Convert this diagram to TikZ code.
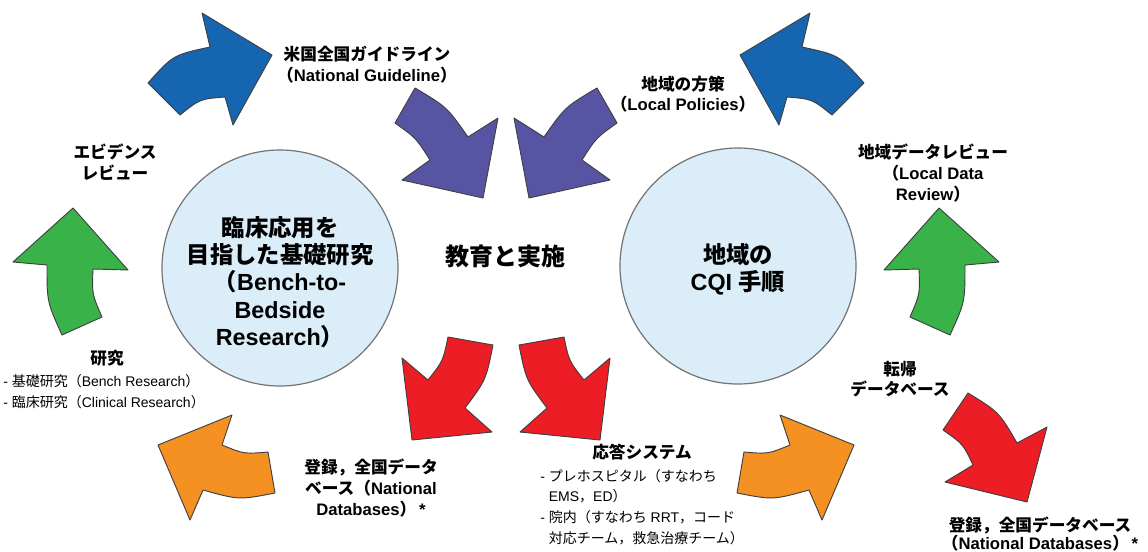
\documentclass[tikz,border=0pt]{standalone}
\usepackage{fontspec}
\setmainfont{Liberation Sans}
\newfontfamily\jp{Noto Sans CJK JP}
\definecolor{cqiblue}{RGB}{22,101,176}
\definecolor{cqipurple}{RGB}{88,84,164}
\definecolor{cqigreen}{RGB}{58,178,74}
\definecolor{cqiorange}{RGB}{245,144,34}
\definecolor{cqired}{RGB}{236,29,36}
\definecolor{cqicircle}{RGB}{218,237,249}

\begin{document}
\begin{tikzpicture}[x=0.75pt, y=-0.75pt, line join=round,
	blk/.style={draw=black!75, line width=0.7pt},
	lbl/.style={font=\bfseries\fontsize{12.5}{15.5}\selectfont, align=center, inner sep=0pt},
	big/.style={font=\bfseries\fontsize{17.5}{20.5}\selectfont, align=center, inner sep=0pt},
	lst/.style={font=\fontsize{10.5}{15.5}\selectfont, align=left, inner sep=0pt},
	bubble/.style={circle, draw=black!55, line width=0.9pt, fill=cqicircle, minimum size=177pt, inner sep=0pt}]
	\useasboundingbox (0,0) rectangle (1148,551);
	\foreach \s/\o in {1/0,-1/1012}{
		\begin{scope}[shift={(\o,0)}, xscale=\s]
			\draw[blk, fill=cqiblue] (148,83) -- (180,115) .. controls (200,99) .. (225,97) -- (233,125) -- (272,55) -- (202,13) -- (210,47) .. controls (173,55) .. (148,83) -- cycle;
			\draw[blk, fill=cqipurple] (415,88) -- (395,123) .. controls (416,138) .. (430,160) -- (402,180) -- (483,198) -- (498,118) -- (468,137) .. controls (447,107) .. (415,88) -- cycle;
			\draw[blk, fill=cqigreen] (73,208) -- (13,262) -- (47,265) .. controls (47,302) .. (62,335) -- (102,317) .. controls (92,294) .. (93,269) -- (128,270) -- cycle;
			\draw[blk, fill=cqiorange] (232,415) -- (158,445) -- (190,520) -- (203,490) .. controls (239,500) .. (275,493) -- (268,452) .. controls (244,454) .. (222,445) -- cycle;
			\draw[blk, fill=cqired] (448,337) -- (493,345) .. controls (486,380) .. (465,408) -- (492,432) -- (412,440) -- (402,358) -- (428,380) .. controls (443,361) .. (448,337) -- cycle;
		\end{scope}
	}
	\draw[blk, fill=cqired] (968,393) -- (943,430) .. controls (963,444) .. (973,465) -- (945,482) -- (1027,502) -- (1047,427) -- (1017,443) .. controls (999,412) .. (968,393) -- cycle;
	\node[bubble] (bench) at (280,268) {};
	\node[bubble] (cqi) at (738,266) {};
	\node[big] (benchtxt) at (280,282) {{\jp 臨床応用を}\\{\jp 目指した基礎研究}\\{\jp （}Bench-to-\\Bedside\\Research{\jp ）}};
	\node[big] (cqitxt) at (738,269) {{\jp 地域の}\\CQI {\jp 手順}};
	\node[big, font=\bfseries\fontsize{18}{21}\selectfont] (edu) at (505,256) {\jp 教育と実施};
	\node[lbl] (guide) at (367,65) {{\jp 米国全国ガイドライン}\\{\jp （}National Guideline{\jp ）}};
	\node[lbl] (policy) at (683,94) {{\jp 地域の方策}\\{\jp （}Local Policies{\jp ）}};
	\node[lbl] (evid) at (115,162) {{\jp エビデンス}\\{\jp レビュー}};
	\node[lbl] (ldr) at (933,173) {{\jp 地域データレビュー}\\{\jp （}Local Data\\Review{\jp ）}};
	\node[lbl] (resh) at (107,358) {\jp 研究};
	\node[lst, anchor=west] (resl) at (3,392) {- {\jp 基礎研究（}Bench Research{\jp ）}\\- {\jp 臨床研究（}Clinical Research{\jp ）}};
	\node[lbl] (nd1) at (371,488) {{\jp 登録，全国データ}\\{\jp ベース（}National\\Databases{\jp ）}\,*};
	\node[lbl] (resp) at (642,452) {\jp 応答システム};
	\node[lst, anchor=west] (respl) at (540,507) {- {\jp プレホスピタル（すなわち}\\\phantom{- }EMS{\jp ，}ED{\jp ）}\\- {\jp 院内（すなわち} RRT{\jp ，コード}\\\phantom{- }{\jp 対応チーム，救急治療チーム）}};
	\node[lbl] (outc) at (900,379) {{\jp 転帰}\\{\jp データベース}};
	\node[lbl, font=\bfseries\fontsize{12.5}{13.5}\selectfont] (nd2) at (1040,534) {{\jp 登録，全国データベース}\\{\jp （}National Databases{\jp ）}\,*};
\end{tikzpicture}
\end{document}
